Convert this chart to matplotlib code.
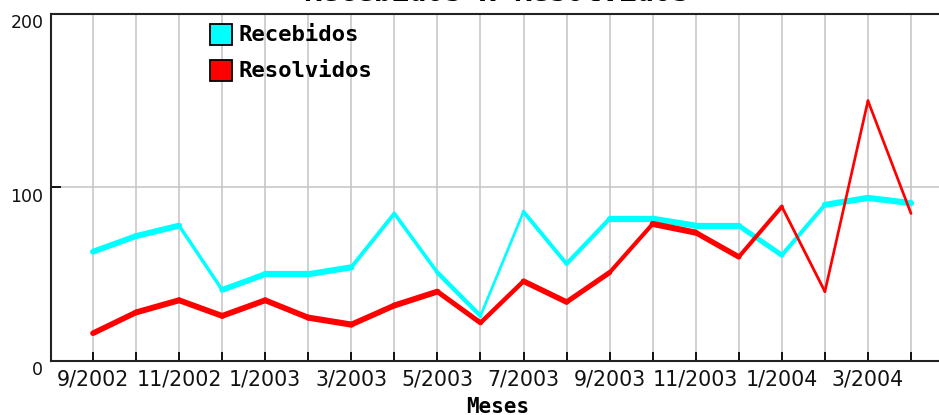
import numpy as np
import matplotlib
matplotlib.use("Agg")
import matplotlib.pyplot as plt
from matplotlib.patches import Rectangle

months = ["9/2002", "10/2002", "11/2002", "12/2002", "1/2003", "2/2003", "3/2003",
          "4/2003", "5/2003", "6/2003", "7/2003", "8/2003", "9/2003", "10/2003",
          "11/2003", "12/2003", "1/2004", "2/2004", "3/2004", "4/2004"]
recebidos = [63, 72, 78, 41, 50, 50, 54, 85, 51, 26, 86, 56, 82, 82, 78, 78, 61, 90, 94, 91]
resolvidos = [16, 28, 35, 26, 35, 25, 21, 32, 40, 22, 46, 34, 51, 79, 74, 60, 89, 40, 150, 85]
series_names = ["Recebidos", "Resolvidos"]
series_colors = ["#00FFFF", "#FF0000"]
title_text = "Recebidos x Resolvidos"
xlabel_text = "Meses"
yticks = [0, 100, 200]

W, H = 939, 415
fig = plt.figure(figsize=(W / 100, H / 100), dpi=100)

def fx(px):
    return px / W

def fy(py):
    return 1 - py / H

ax = fig.add_axes([fx(51), fy(361), 1 - fx(51), fy(14) - fy(361)])
x = np.arange(len(months))
ax.set_xlim(-0.975, 19.65)
ax.set_ylim(0, 200)

# grid
for xi in x:
    ax.axvline(xi, color="#c4c4c4", lw=1.1, zorder=1)
ax.axhline(100, color="#c4c4c4", lw=1.1, zorder=1)

# spines
ax.spines["right"].set_visible(False)
for s in ["left", "bottom", "top"]:
    ax.spines[s].set_color("#222222")
    ax.spines[s].set_linewidth(1.5)
    ax.spines[s].set_zorder(5)

ax.set_xticks(x)
ax.set_xticklabels([m if i % 2 == 0 else "" for i, m in enumerate(months)],
                   fontsize=14.8, family="DejaVu Sans", color="#111111")
ax.set_yticks(yticks)
ax.set_yticklabels([str(v) for v in yticks], fontsize=12.5, family="DejaVu Sans",
                   color="#111111", va="top")
ax.tick_params(axis="x", direction="in", length=6.5, width=1.4, color="#111111", pad=6)
ax.tick_params(axis="y", direction="in", length=7, width=1.4, color="#111111", pad=5.5)

# lines, per segment with GD-like thinning on steep segments
def draw_series(vals, color, z):
    pts = ax.transData.transform(np.column_stack([x, vals]))
    for i in range(len(vals) - 1):
        dxp = pts[i + 1, 0] - pts[i, 0]
        dyp = pts[i + 1, 1] - pts[i, 1]
        th = np.arctan2(abs(dyp), abs(dxp))
        wpx = max(2.7, 6.2 * np.cos(th))
        ax.plot(x[i:i + 2], vals[i:i + 2], color=color, lw=wpx * 0.72,
                solid_capstyle="round", solid_joinstyle="round", zorder=z)

draw_series(recebidos, series_colors[0], 3)
draw_series(resolvidos, series_colors[1], 4)

# legend (manual)
for k, (name, col) in enumerate(zip(series_names, series_colors)):
    top = 24 + 36 * k
    fig.patches.append(Rectangle((fx(210), fy(top + 21)), fx(22), fy(top) - fy(top + 21),
                                 transform=fig.transFigure, facecolor=col,
                                 edgecolor="black", lw=1.3, zorder=10))
    fig.text(fx(239), fy(top + 11), name, fontsize=16, family="DejaVu Sans Mono",
             fontweight="bold", va="center", ha="left", color="black")

# title (clipped at top, as in the reference) and x label
fig.text(fx(497), fy(1), title_text, fontsize=21, family="DejaVu Sans Mono",
         fontweight="bold", ha="center", va="baseline", color="black")
fig.text(fx(498), fy(413), xlabel_text, fontsize=15, family="DejaVu Sans Mono",
         fontweight="bold", ha="center", va="baseline", color="black")

fig.savefig("out.png", dpi=100)
